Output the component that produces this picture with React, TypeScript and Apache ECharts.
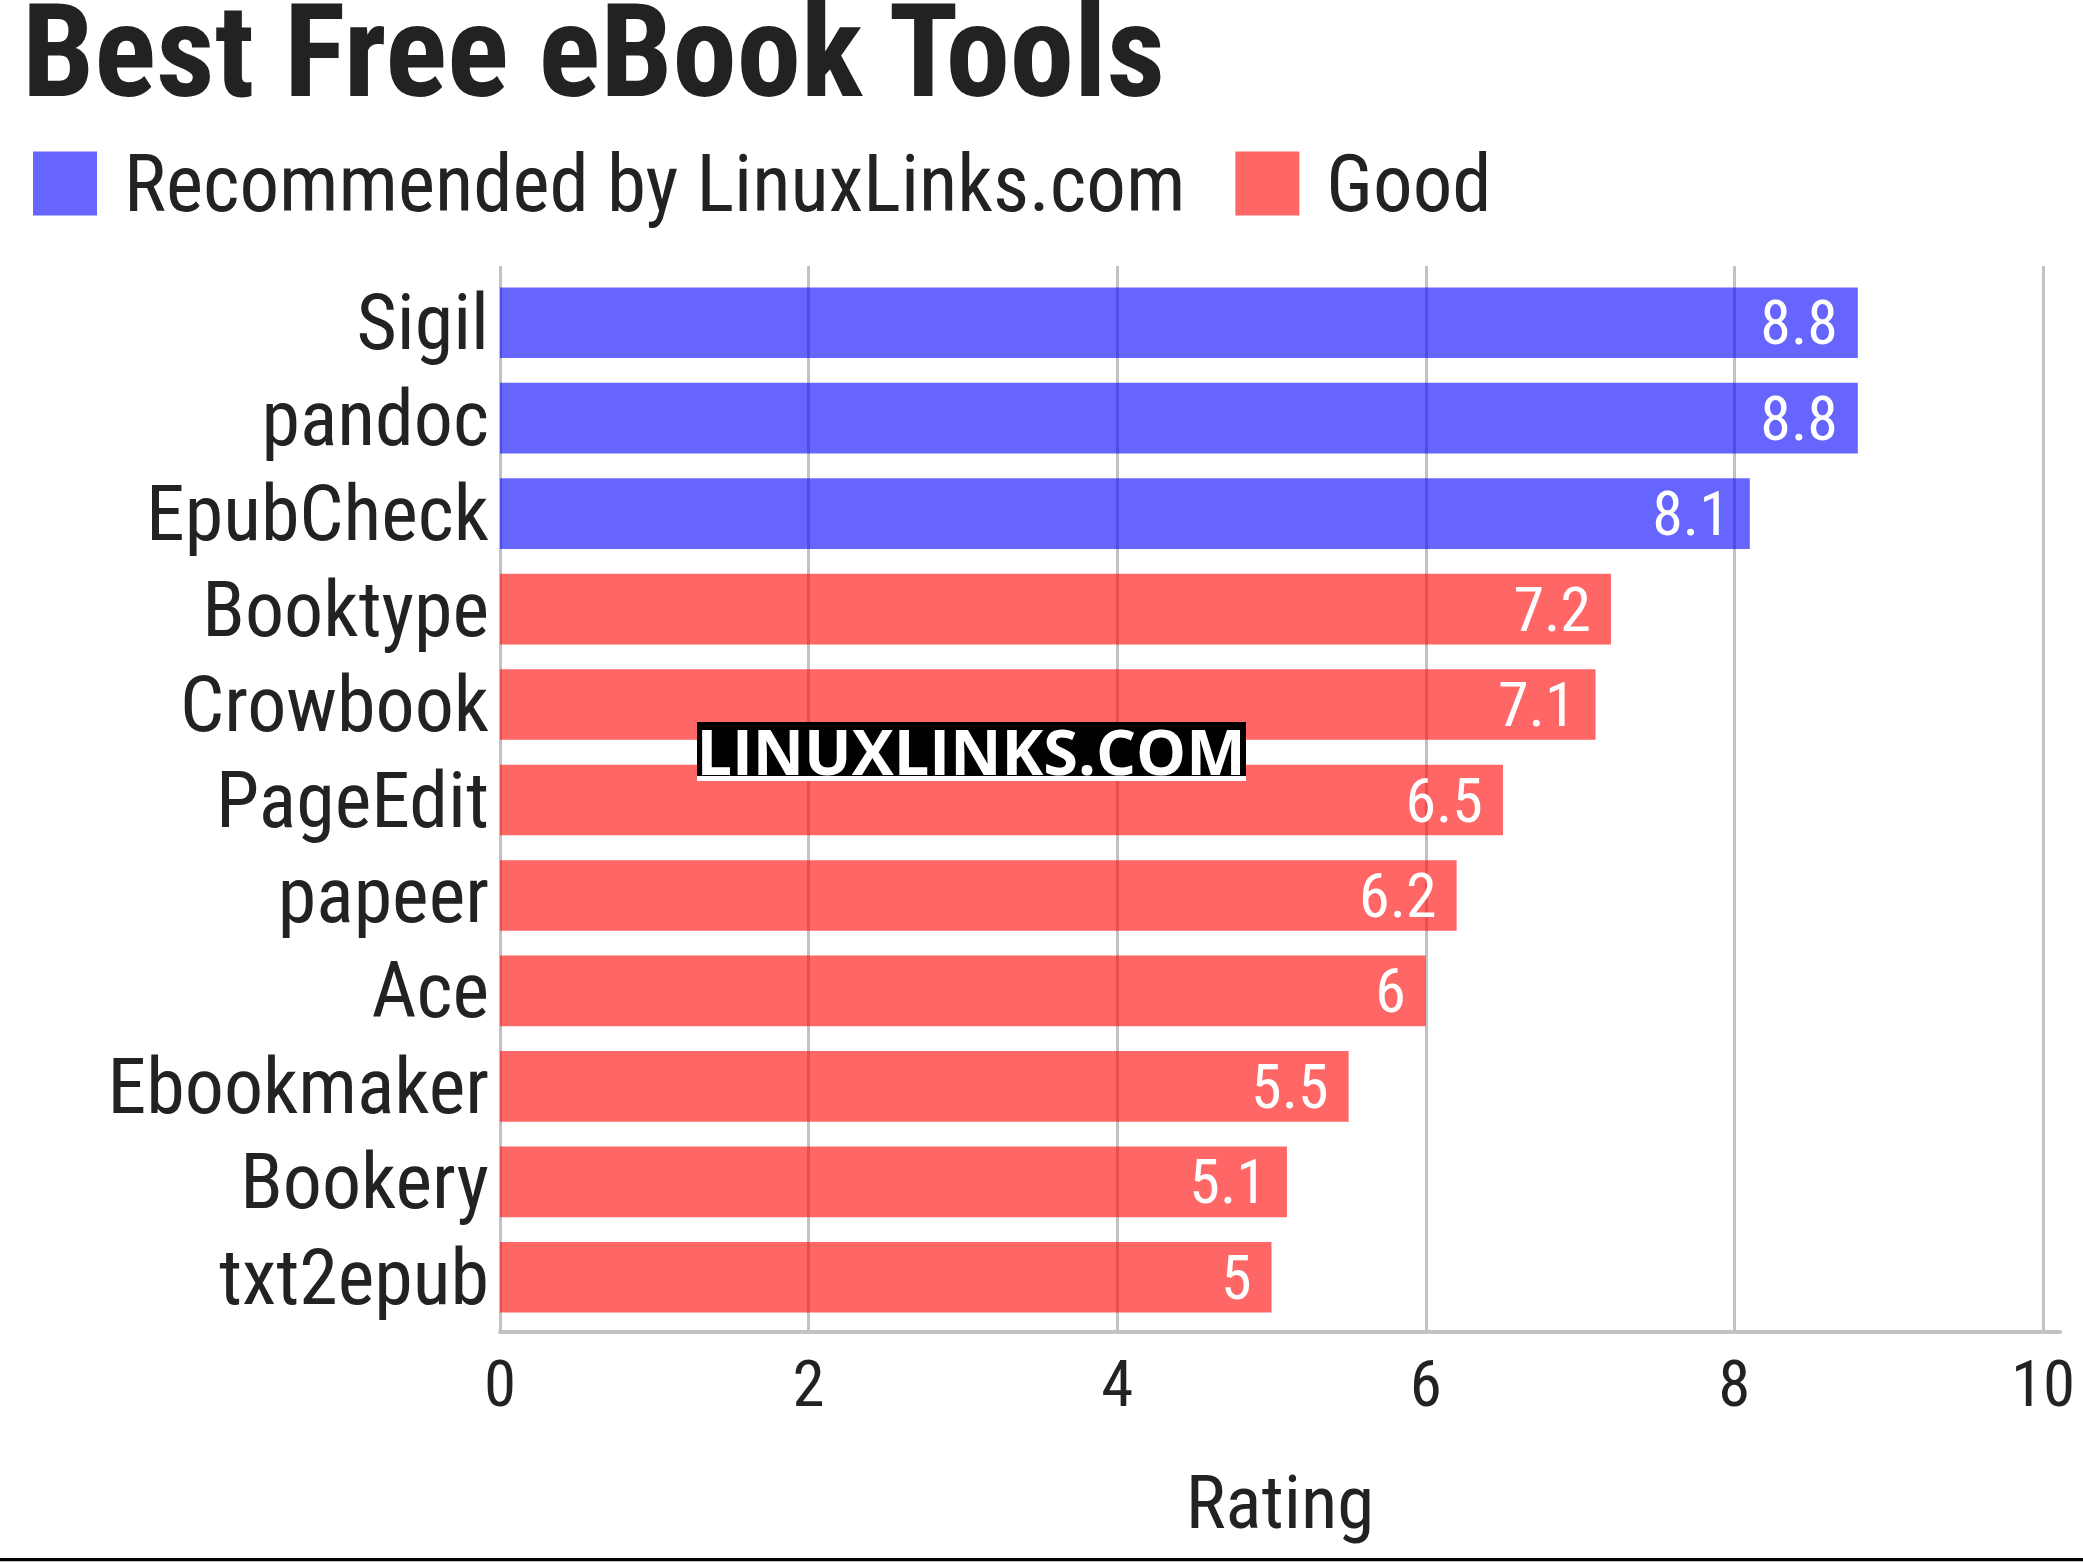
import React, { useEffect, useRef } from "react";
import * as echarts from "echarts";

const categories = ["Sigil", "pandoc", "EpubCheck", "Booktype", "Crowbook", "PageEdit", "papeer", "Ace", "Ebookmaker", "Bookery", "txt2epub"];
const ratings = [8.8, 8.8, 8.1, 7.2, 7.1, 6.5, 6.2, 6, 5.5, 5.1, 5];
const groups = ["Recommended by LinuxLinks.com", "Recommended by LinuxLinks.com", "Recommended by LinuxLinks.com", "Good", "Good", "Good", "Good", "Good", "Good", "Good", "Good"];
const groupNames = ["Recommended by LinuxLinks.com", "Good"];
const groupColors = ["rgba(0,0,255,0.6)", "rgba(255,0,0,0.6)"];
const xTicks = [0, 2, 4, 6, 8, 10];

const FONT = "'Roboto Condensed', 'Liberation Sans Narrow', 'DejaVu Sans Condensed', Roboto, sans-serif";

export default function App() {
  const ref = useRef<HTMLDivElement>(null);
  useEffect(() => {
    const chart = echarts.init(ref.current!, null, { renderer: "svg" });
    const series = groupNames.map((g, gi) => ({
      name: g,
      type: "bar",
      stack: "all",
      xAxisIndex: 0,
      yAxisIndex: 0,
      barWidth: "74%",
      itemStyle: { color: groupColors[gi] },
      label: {
        show: true,
        position: "insideRight",
        distance: 20,
        color: "#ffffff",
        fontFamily: FONT,
        fontSize: 62,
        formatter: (p: any) => String(p.value),
      },
      data: ratings.map((v, i) => (groups[i] === g ? v : null)),
    }));
    chart.setOption({
      animation: false,
      backgroundColor: "#ffffff",
      title: {
        text: "Best Free eBook Tools",
        left: 22,
        top: 5,
        padding: 0,
        textStyle: { fontFamily: FONT, fontWeight: "bold", fontSize: 129, lineHeight: 92, color: "#222222" },
      },
      legend: {
        left: 33,
        top: 144,
        padding: 0,
        itemWidth: 64,
        itemHeight: 64,
        itemGap: 50,
        icon: "rect",
        data: groupNames,
        textStyle: { fontFamily: FONT, fontSize: 79, color: "#222222", lineHeight: 64, padding: [0, 0, 0, 22] },
      },
      grid: [
        { left: 500, width: 1543, top: 275, height: 1050, containLabel: false },
        { left: 500, width: 1560, top: 266, height: 1066, containLabel: false },
      ],
      xAxis: [
        { type: "value", gridIndex: 0, min: 0, max: 10, show: false },
        {
          type: "value",
          gridIndex: 1,
          min: 0,
          max: 10.11,
          interval: 2,
          axisLine: { show: true, onZero: false, lineStyle: { color: "#c2c2c2", width: 4 } },
          axisTick: { show: false },
          splitLine: { show: true, showMaxLine: false, lineStyle: { color: "#c2c2c2", width: 3 } },
          axisLabel: {
            margin: 19,
            showMaxLabel: false,
            fontFamily: FONT,
            fontSize: 65,
            color: "#222222",
            formatter: (v: number) => (xTicks.includes(v) ? String(v) : ""),
          },
          name: "Rating",
          nameLocation: "middle",
          nameGap: 132,
          nameTextStyle: { fontFamily: FONT, fontSize: 75, color: "#222222" },
        },
      ],
      yAxis: [
        {
          type: "category",
          gridIndex: 0,
          data: categories,
          inverse: true,
          axisLine: { show: false },
          axisTick: { show: false },
          axisLabel: { interval: 0, margin: 11, fontFamily: FONT, fontSize: 78, color: "#222222" },
        },
        { type: "value", gridIndex: 1, show: false, min: 0, max: 1 },
      ],
      graphic: [
        { type: "rect", z: 200, shape: { x: 0, y: 1558, width: 2083, height: 3 }, style: { fill: "#000000" } },
        { type: "rect", z: 200, shape: { x: 0, y: 1561, width: 2083, height: 1 }, style: { fill: "#bdbdbd" } },
        { type: "rect", z: 200, shape: { x: 697, y: 722, width: 549, height: 54 }, style: { fill: "#000000" } },
        { type: "rect", z: 200, shape: { x: 697, y: 776, width: 549, height: 5 }, style: { fill: "#ffffff" } },
        {
          type: "text",
          z: 201,
          x: 971,
          y: 750,
          style: {
            text: "LINUXLINKS.COM",
            fill: "#ffffff",
            font: "bold 63px 'Open Sans', sans-serif",
            align: "center",
            verticalAlign: "middle",
          },
        },
      ],
      series,
    });
    return () => chart.dispose();
  }, []);
  return (
    <div
      ref={ref}
      style={{ position: "fixed", left: 0, top: 0, width: 2083, height: 1562, overflow: "hidden", background: "#ffffff" }}
    />
  );
}
